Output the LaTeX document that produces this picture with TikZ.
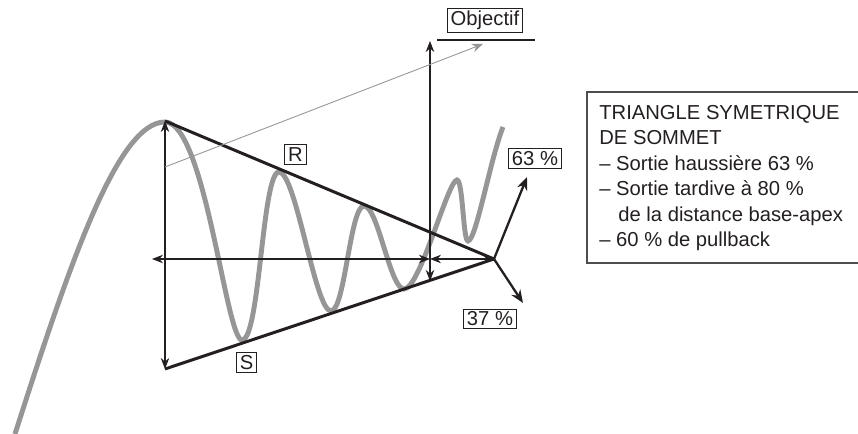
\documentclass[tikz,border=0pt]{standalone}
\usepackage{fontspec}
\setmainfont{Liberation Sans}
\usetikzlibrary{arrows.meta, positioning}
\definecolor{wavegray}{RGB}{150,150,150}
\definecolor{inkgray}{RGB}{35,31,32}

\begin{document}
\begin{tikzpicture}[
    x = 0.2mm, y = -0.2mm,
    font      = \fontsize{11.5}{14.5}\selectfont,
    tag/.style     = {draw=inkgray, line width=0.5pt, inner xsep=2pt,
                      inner ysep=1.5pt, text=inkgray},
    bound/.style   = {line width=1.7pt, draw=inkgray},
    measure/.style = {{Stealth[length=2.2mm,width=1.7mm]}-{Stealth[length=2.2mm,width=1.7mm]},
                      line width=0.6pt, draw=inkgray},
    wave/.style    = {line width=2.8pt, draw=wavegray},
    breakout/.style= {-{Stealth[length=2.6mm,width=2.1mm]}, line width=1.3pt, draw=inkgray},
    target/.style  = {-{Stealth[length=2.2mm,width=1.7mm]}, line width=0.5pt, draw=wavegray},
]
\useasboundingbox (0,0) rectangle (858,434);

% triangle points
\coordinate (top)   at (165,121);
\coordinate (bot)   at (165,369);
\coordinate (apex)  at (494,259);
\coordinate (left)  at (152,259);
\coordinate (cut)   at (430,259);
\coordinate (objhi) at (430,41);
\coordinate (objlo) at (430,281);
\coordinate (proj)  at (165,167);
\coordinate (projend) at (483,44);
\coordinate (ulA)   at (437,40);
\coordinate (ulB)   at (535,40);
\coordinate (up)    at (527,177);
\coordinate (down)  at (523,303);

% price curve
\draw[wave] (15,434) .. controls (70,262) and (118,122) .. (165,122)
    .. controls (205,122) and (226,340) .. (242,340)
    .. controls (260,340) and (262,172) .. (279,172)
    .. controls (296,172) and (315,311) .. (331,311)
    .. controls (345,311) and (350,206) .. (364,206)
    .. controls (378,206) and (390,289) .. (404,289)
    .. controls (420,289) and (448,180) .. (457,180)
    .. controls (463,180) and (463,241) .. (468,241)
    .. controls (476,241) and (490,160) .. (503,127);

% resistance and support
\draw[bound] (top) -- (apex);
\draw[bound] (bot) -- (apex);

% measures
\draw[measure] (top) -- (bot);
\draw[measure] (left) -- (cut);
\draw[measure] (cut) -- (apex);
\draw[measure] (objlo) -- (objhi);
\draw[target] (proj) -- (projend);
\draw[line width=0.6pt, draw=inkgray] (ulA) -- (ulB);

% breakouts
\draw[breakout] (apex) -- (up);
\draw[breakout] (apex) -- (down);

% labels
\node[tag] (obj) at (485,20.5)  {Objectif};
\node[tag] (res) at (295.5,154.5) {R};
\node[tag] (sup) at (246.5,362.5) {S};
\node[tag] (hi)  at (535,158.5)  {63 \%};
\node[tag] (lo)  at (490,319)    {37 \%};

% legend
\draw[line width=0.6pt, draw=inkgray!80] (858,92) -- (587,92) -- (587,263) -- (858,263);
\node[anchor=north west, inner sep=0pt, align=left, text=inkgray,
      font=\fontsize{11.5}{14.5}\selectfont] (info) at (599,105)
     {TRIANGLE SYMETRIQUE\\
      DE SOMMET\\
      – Sortie haussière 63 \%\\
      – Sortie tardive à 80 \%\\
      \hspace*{3.8mm}de la distance base-apex\\
      – 60 \% de pullback};
\end{tikzpicture}
\end{document}
